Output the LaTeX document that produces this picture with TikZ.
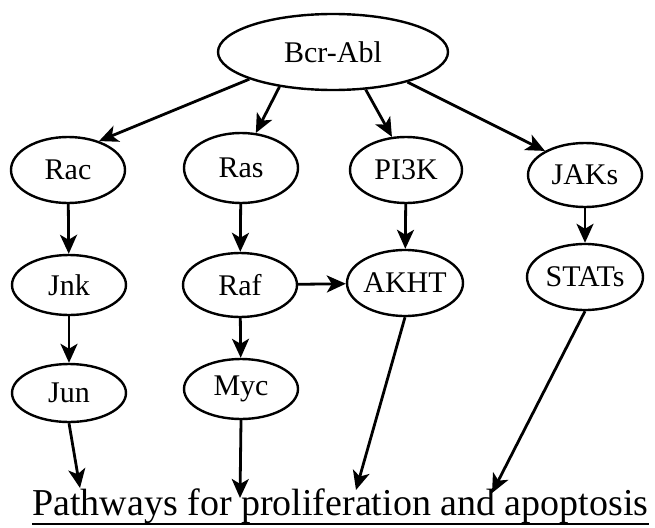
\documentclass[tikz,border=0pt]{standalone}
\usepackage{fontspec}
\setmainfont{Liberation Serif}
\usetikzlibrary{arrows.meta}
\usetikzlibrary{shapes.geometric}

\begin{document}
\begin{tikzpicture}[x=1pt,y=-1pt,
    protein/.style={ellipse,draw,line width=2.4pt,inner xsep=-8pt,inner ysep=-4pt,
      minimum width=114pt,minimum height=64pt,font=\fontsize{30}{32}\selectfont},
    signal/.style={line width=2.8pt,-{Stealth[length=19pt,width=17pt,inset=5pt]}}]
  \useasboundingbox (0,0) rectangle (655,527);

  % top of the cascade
  \node[protein,minimum width=230pt,minimum height=76pt] (bcr) at (333,52) {Bcr-Abl};

  % first row
  \node[protein,minimum height=66pt] (rac) at (68,170) {Rac};
  \node[protein,minimum height=70pt] (ras) at (241,168) {Ras};
  \node[protein,minimum width=112pt,minimum height=66pt] (pik) at (406,170) {PI3K};
  \node[protein] (jaks) at (585,175) {JAKs};

  % second row
  \node[protein,minimum height=60pt] (jnk) at (69,285) {Jnk};
  \node[protein] (raf) at (240,285) {Raf};
  \node[protein,minimum width=116pt,minimum height=66pt] (akht) at (405,283) {AKHT};
  \node[protein,minimum width=116pt,minimum height=66pt] (stats) at (585,277) {STATs};

  % third row
  \node[protein,minimum height=58pt] (jun) at (69,393) {Jun};
  \node[protein,minimum height=60pt] (myc) at (241,389) {Myc};

  % outcome
  \node[anchor=base west,inner sep=0pt,font=\fontsize{38}{40}\selectfont] (goal) at (32,515)
    {Pathways for proliferation and apoptosis};
  \draw[line width=2.4pt] ([yshift=-9pt]goal.base west) -- ([yshift=-9pt]goal.base east);

  \coordinate (junend) at (80,488);
  \coordinate (mycend) at (240,498);
  \coordinate (akhtend) at (356,490);
  \coordinate (statsend) at (492,493);

  % Bcr-Abl branches
  \draw[signal] (bcr.198) -- (rac.43);
  \draw[signal] (bcr.213) -- (ras.67);
  \draw[signal] (bcr.311) -- (pik.113);
  \draw[signal] (bcr.338) -- (jaks.149);

  \draw[signal] (rac) -- (jnk);
  \draw[signal] (ras) -- (raf);
  \draw[signal] (pik) -- (akht);
  \draw[signal] (jaks) -- (stats);
  \draw[signal] (raf) -- (akht);
  \draw[signal] (jnk) -- (jun);
  \draw[signal] (raf) -- (myc);

  % into the pathways
  \draw[signal] (jun.south) -- (junend);
  \draw[signal] (myc.south) -- (mycend);
  \draw[signal] (akht.south) -- (akhtend);
  \draw[signal] (stats.south) -- (statsend);
\end{tikzpicture}
\end{document}
